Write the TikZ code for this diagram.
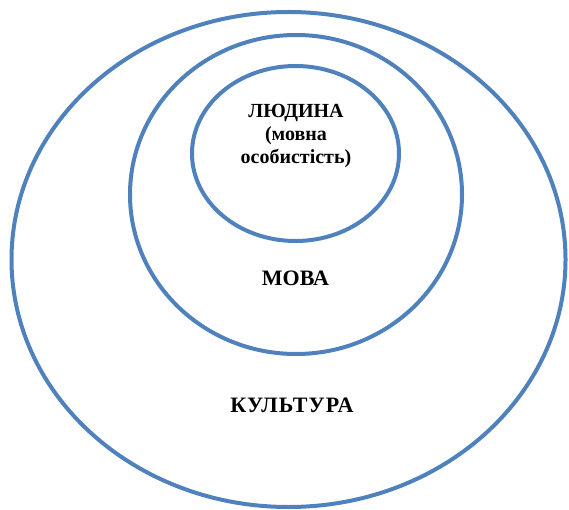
\documentclass[tikz,border=0pt]{standalone}
\usepackage{fontspec}
\setmainfont{Liberation Serif}
\usetikzlibrary{shapes.geometric}
\definecolor{ringblue}{HTML}{4F81BD}

\begin{document}
\begin{tikzpicture}[x=1pt,y=-1pt,
ring/.style={draw=ringblue,line width=4pt,ellipse,inner sep=0pt},
lbl/.style={font=\fontsize{22}{25}\selectfont\bfseries,inner sep=0pt},
small/.style={font=\fontsize{20}{23}\selectfont\bfseries,align=center,inner sep=0pt}]
\useasboundingbox (0,0) rectangle (569,510);
\node[ring,minimum width=554pt,minimum height=495pt] (culture) at (288.5,259.5) {};
\node[ring,minimum width=332pt,minimum height=319pt] (language) at (296,194.5) {};
\node[ring,minimum width=207pt,minimum height=175pt] (person) at (295.5,153.5) {};
\node[small] (personlbl) at (296,136) {ЛЮДИНА\\(мовна\\особистість)};
\node[lbl,anchor=base] (languagelbl) at (295.5,285) {МОВА};
\node[lbl,anchor=base] (culturelbl) at (292,412) {\addfontfeature{LetterSpace=5}КУЛЬТУРА};
\end{tikzpicture}
\end{document}
